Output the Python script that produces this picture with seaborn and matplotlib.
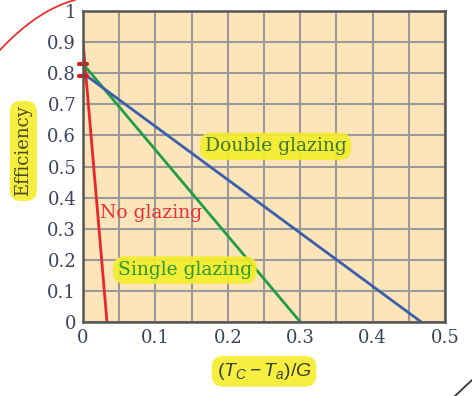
import matplotlib
matplotlib.use("Agg")
import matplotlib.pyplot as plt
import seaborn as sns
import pandas as pd
import numpy as np

# Data
series = ["No glazing", "Single glazing", "Double glazing"]
intercepts = [0.90, 0.83, 0.80]        # efficiency at (Tc-Ta)/G = 0
zero_points = [0.033, 0.30, 0.467]     # (Tc-Ta)/G where efficiency = 0
colors = ["#e8262c", "#1f9e4a", "#3a5fad"]
x_ticks = [0, 0.1, 0.2, 0.3, 0.4, 0.5]
x_tick_labels = ["0", "0.1", "0.2", "0.3", "0.4", "0.5"]
y_ticks = [0, 0.1, 0.2, 0.3, 0.4, 0.5, 0.6, 0.7, 0.8, 0.9, 1.0]
y_tick_labels = ["0", "0.1", "0.2", "0.3", "0.4", "0.5", "0.6", "0.7", "0.8", "0.9", "1"]
marked_values = [0.83, 0.79]

rows = []
for name, y0, x1 in zip(series, intercepts, zero_points):
    rows.append({"x": 0.0, "eff": y0, "type": name})
    rows.append({"x": x1, "eff": 0.0, "type": name})
df = pd.DataFrame(rows)

sns.set_theme(style="white")
plt.rcParams["font.family"] = ["DejaVu Serif"]
plt.rcParams["mathtext.fontset"] = "custom"
plt.rcParams["mathtext.it"] = "Liberation Sans:italic"
plt.rcParams["mathtext.rm"] = "Liberation Sans"

fig = plt.figure(figsize=(4.72, 3.96), dpi=100)
ax = fig.add_axes([0.176, 0.187, 0.767, 0.785])
ax.set_facecolor("#fde4b9")

sns.lineplot(data=df, x="x", y="eff", hue="type", palette=dict(zip(series, colors)),
             ax=ax, linewidth=2, legend=False)

ax.set_xlim(0, 0.5)
ax.set_ylim(0, 1)
ax.set_xticks(x_ticks)
ax.set_xticklabels(x_tick_labels)
ax.set_xticks(np.arange(0.05, 0.5, 0.1), minor=True)
ax.set_yticks(y_ticks)
ax.set_yticklabels(y_tick_labels)
ax.grid(True, which="both", color="#9a9a9a", linewidth=1.5)
ax.set_axisbelow(True)
for s in ax.spines.values():
    s.set_color("#555555")
    s.set_linewidth(1.8)
ax.tick_params(axis="both", which="both", length=0, labelsize=13, labelcolor="#3c4060", pad=5)

hl = dict(boxstyle="round,pad=0.25,rounding_size=0.6", fc="#f5ee2a", ec="none", alpha=0.9)
ax.set_xlabel(r"$(T_C - T_a)/G$", fontsize=14, color="#3a3f2a", labelpad=10,
              bbox=hl)
ax.set_ylabel("Efficiency", fontsize=13, color="#4a4a20", bbox=hl)
ax.yaxis.set_label_coords(-0.14, 0.55)

ax.text(0.023, 0.35, "No glazing", color="#e8303c", fontsize=13.5, va="center", ha="left")
ax.text(0.048, 0.167, "Single glazing", color="#2a9a2a", fontsize=13.5, va="center",
        ha="left", bbox=hl)
ax.text(0.168, 0.565, "Double glazing", color="#3a7a2a", fontsize=13.5, va="center",
        ha="left", bbox=hl)

# hand-drawn red marks on the axis
for v in marked_values:
    ax.plot([-0.006, 0.006], [v, v], color="#d42020", linewidth=3, clip_on=False,
            solid_capstyle="round")

# hand-drawn annotation strokes
t = np.linspace(0, 1, 50)
fig.lines.append(plt.Line2D(t * 75 / 472, 1 - (50 - 50 * t - 30 * t * (1 - t)) / 396,
                            transform=fig.transFigure, color="#e83030", linewidth=1.3))
fig.lines.append(plt.Line2D([455 / 472, 472 / 472], [1 - 396 / 396, 1 - 380 / 396],
                            transform=fig.transFigure, color="#333333", linewidth=1.3))

fig.savefig("out.png", dpi=100)
